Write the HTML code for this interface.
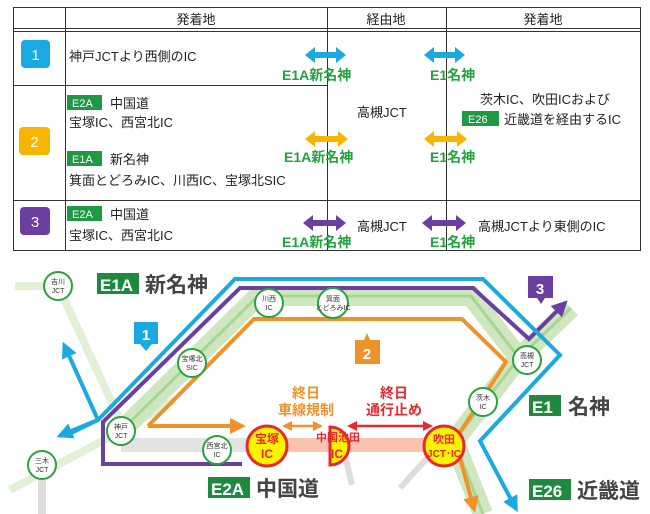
<!DOCTYPE html>
<html><head><meta charset="utf-8"><style>
html,body{margin:0;padding:0;background:#fff;}
svg{display:block;font-family:"Liberation Sans","Noto Sans CJK JP",sans-serif;}
</style></head><body>
<svg width="650" height="514" viewBox="0 0 650 514" xmlns="http://www.w3.org/2000/svg">
<defs>
<marker id="mb" markerWidth="4" markerHeight="4" refX="2" refY="2" orient="auto" markerUnits="strokeWidth"><path d="M0,0 L4,2 L0,4 z" fill="#1aa9e0"/></marker>
<marker id="mp" markerWidth="4" markerHeight="4" refX="2" refY="2" orient="auto" markerUnits="strokeWidth"><path d="M0,0 L4,2 L0,4 z" fill="#6b3fa0"/></marker>
<marker id="mo" markerWidth="4" markerHeight="4" refX="2" refY="2" orient="auto" markerUnits="strokeWidth"><path d="M0,0 L4,2 L0,4 z" fill="#f0922a"/></marker>
<marker id="mr" markerWidth="4" markerHeight="4" refX="2" refY="2" orient="auto-start-reverse" markerUnits="strokeWidth"><path d="M0,0 L4,2 L0,4 z" fill="#e8282f"/></marker>
<marker id="mo2" markerWidth="4" markerHeight="4" refX="2" refY="2" orient="auto-start-reverse" markerUnits="strokeWidth"><path d="M0,0 L4,2 L0,4 z" fill="#f0922a"/></marker>
</defs>
<!-- TABLE -->
<g stroke="#333" stroke-width="1" fill="none">
<rect x="13.5" y="7.5" width="627" height="243"/>
<line x1="13" y1="28.5" x2="640" y2="28.5"/>
<line x1="13" y1="31.5" x2="640" y2="31.5"/>
<line x1="65.5" y1="7" x2="65.5" y2="250"/>
<line x1="327.5" y1="7" x2="327.5" y2="250"/>
<line x1="446.5" y1="7" x2="446.5" y2="250"/>
<line x1="13" y1="85.5" x2="327" y2="85.5"/>
<line x1="13" y1="200.5" x2="640" y2="200.5"/>
</g>
<g font-size="13" fill="#222" text-anchor="middle">
<text x="196" y="24">発着地</text><text x="386" y="24">経由地</text><text x="543" y="24">発着地</text>
</g>
<rect x="21" y="40" width="29" height="28" rx="4" fill="#1aa9e0"/><text x="35.5" y="60" fill="#fff" font-size="15" text-anchor="middle">1</text>
<rect x="19" y="127" width="31" height="28" rx="4" fill="#f7b500"/><text x="34.5" y="147" fill="#fff" font-size="15" text-anchor="middle">2</text>
<rect x="20" y="207" width="30" height="28" rx="4" fill="#6b3fa0"/><text x="35" y="227" fill="#fff" font-size="15" text-anchor="middle">3</text>
<g font-size="13" fill="#222">
<text x="69" y="61">神戸JCTより西側のIC</text>
<rect x="67" y="95" width="35" height="15" fill="#1e9a45"/><text x="72" y="107" fill="#fff" font-size="11">E2A</text><text x="110" y="108">中国道</text>
<text x="69" y="127">宝塚IC、西宮北IC</text>
<rect x="67" y="151" width="35" height="15" fill="#1e9a45"/><text x="72" y="163" fill="#fff" font-size="11">E1A</text><text x="110" y="164">新名神</text>
<text x="69" y="185">箕面とどろみIC、川西IC、宝塚北SIC</text>
<text x="357" y="117">高槻JCT</text>
<text x="480" y="104">茨木IC、吹田ICおよび</text>
<rect x="462" y="111" width="37" height="15" fill="#1e9a45"/><text x="468" y="123" fill="#fff" font-size="11">E26</text><text x="504" y="124">近畿道を経由するIC</text>
<rect x="67" y="206" width="35" height="15" fill="#1e9a45"/><text x="72" y="218" fill="#fff" font-size="11">E2A</text><text x="110" y="219">中国道</text>
<text x="69" y="240">宝塚IC、西宮北IC</text>
<text x="357" y="231">高槻JCT</text>
<text x="478" y="231">高槻JCTより東側のIC</text>
</g>
<!-- table arrows -->
<g>
<path d="M305,55 l10,-8 v5 h21 v-5 l10,8 l-10,8 v-5 h-21 v5z" fill="#1aa9e0"/>
<path d="M424,55 l10,-8 v5 h21 v-5 l10,8 l-10,8 v-5 h-21 v5z" fill="#1aa9e0"/>
<path d="M305,139 l10,-8 v5 h23 v-5 l10,8 l-10,8 v-5 h-23 v5z" fill="#f7b500"/>
<path d="M424,139 l10,-8 v5 h23 v-5 l10,8 l-10,8 v-5 h-23 v5z" fill="#f7b500"/>
<path d="M303,223 l10,-8 v5 h23 v-5 l10,8 l-10,8 v-5 h-23 v5z" fill="#6b3fa0"/>
<path d="M422,223 l10,-8 v5 h24 v-5 l10,8 l-10,8 v-5 h-24 v5z" fill="#6b3fa0"/>
</g>
<g font-size="14" font-weight="bold" fill="#22a33c">
<text x="282" y="80">E1A新名神</text><text x="430" y="80">E1名神</text>
<text x="284" y="162">E1A新名神</text><text x="430" y="162">E1名神</text>
<text x="282" y="247">E1A新名神</text><text x="430" y="247">E1名神</text>
</g>
<!-- MAP -->
<g fill="none" stroke-linecap="butt" stroke-linejoin="miter">
<!-- light green background roads -->
<path d="M15,286 H58 L125,431" stroke="#e2f0d8" stroke-width="8"/>
<path d="M10,490 L121,431 L175,400" stroke="#e2f0d8" stroke-width="8"/>
<path d="M571,308 L519,358 L454,441 L483,514" stroke="#cfe7c0" stroke-width="20"/>
<path d="M121,431 L258,296 H471 L519,358" stroke="#cfe7c0" stroke-width="20"/>
<path d="M571,308 L519,358 L454,441 L483,514" stroke="#a8d594" stroke-width="3"/>
<path d="M121,431 L258,296 H471 L519,358" stroke="#a8d594" stroke-width="3"/>
<!-- grey -->
<path d="M42,480 V514" stroke="#ddd" stroke-width="8"/>
<path d="M345,455 L352,485" stroke="#ddd" stroke-width="6"/>
<path d="M430,455 L400,488" stroke="#ddd" stroke-width="6"/>
<path d="M121,445 H267" stroke="#e3e3e3" stroke-width="14"/>
<path d="M267,445 H446" stroke="#f8c4b0" stroke-width="14"/>
<!-- orange -->
<path d="M148,426 L254,319 H462 L506,362 L455,440 L473,505" stroke="#f0922a" stroke-width="4" marker-end="url(#mo)"/>
<path d="M148,426 H238" stroke="#f0922a" stroke-width="4" marker-end="url(#mo)"/>
<!-- purple -->
<path d="M242,464 H103 V422 L240,288 H473 L529,339 L562,306" stroke="#6b3fa0" stroke-width="4" marker-end="url(#mp)"/>
<!-- blue -->
<path d="M60,436 L98,420 L235,279 H483 L560,355 L480,441 L514,505" stroke="#1aa9e0" stroke-width="4" marker-end="url(#mb)"/>
<path d="M65,436 L98,420" stroke="#1aa9e0" stroke-width="4"/>
<path d="M98,420 L66,349" stroke="#1aa9e0" stroke-width="4" marker-end="url(#mb)"/>
<path d="M93,422 L64,434" stroke="#1aa9e0" stroke-width="4" marker-end="url(#mb)"/>
<!-- small arrows -->
<path d="M287,426 H318" stroke="#f0922a" stroke-width="2.5" marker-start="url(#mo2)" marker-end="url(#mo2)"/>
<path d="M352,426 H428" stroke="#e8282f" stroke-width="2.5" marker-start="url(#mr)" marker-end="url(#mr)"/>
</g>
<!-- callouts -->
<path d="M134,322 h24 v22 h-6 l-6,7 l-6,-7 h-6z" fill="#1aa9e0"/><text x="146" y="340" fill="#fff" font-size="15" font-weight="bold" text-anchor="middle">1</text>
<path d="M355,340 h9 l3,-7 l3,7 h10 v24 h-25z" fill="#f0922a"/><text x="367" y="359" fill="#fff" font-size="15" font-weight="bold" text-anchor="middle">2</text>
<path d="M528,276 h25 v22 h-8 l-4,6 l-4,-6 h-9z" fill="#6b3fa0"/><text x="540" y="294" fill="#fff" font-size="15" font-weight="bold" text-anchor="middle">3</text>
<!-- small circles -->
<g fill="#fff" stroke="#2aa33f" stroke-width="2">
<circle cx="58" cy="286" r="14"/><circle cx="269" cy="303" r="14"/><circle cx="333" cy="303" r="15"/>
<circle cx="192" cy="363" r="14"/><circle cx="527" cy="360" r="14"/><circle cx="483" cy="402" r="14"/>
<circle cx="121" cy="431" r="14"/><circle cx="217" cy="450" r="14"/><circle cx="42" cy="465" r="14"/>
</g>
<g font-size="7" fill="#333" text-anchor="middle">
<text x="58" y="284">吉川</text><text x="58" y="293">JCT</text>
<text x="269" y="301">川西</text><text x="269" y="310">IC</text>
<text x="333" y="301">箕面</text><text x="333" y="310">とどろみIC</text>
<text x="192" y="361">宝塚北</text><text x="192" y="370">SIC</text>
<text x="527" y="358">高槻</text><text x="527" y="367">JCT</text>
<text x="483" y="400">茨木</text><text x="483" y="409">IC</text>
<text x="121" y="429">神戸</text><text x="121" y="438">JCT</text>
<text x="217" y="448">西宮北</text><text x="217" y="457">IC</text>
<text x="42" y="463">三木</text><text x="42" y="472">JCT</text>
</g>
<!-- big circles -->
<g fill="#fff200" stroke="#e8282f" stroke-width="3">
<circle cx="267" cy="446" r="20"/>
<path d="M330,427 A19,19 0 0 1 330,465 Z"/>
<circle cx="444" cy="446" r="20"/>
</g>
<g font-size="12" font-weight="bold" fill="#e8282f" text-anchor="middle">
<text x="267" y="443">宝塚</text><text x="267" y="458">IC</text>
<text x="338" y="441" font-size="11">中国池田</text><text x="337" y="458">IC</text>
<text x="444" y="443" font-size="11">吹田</text><text x="444" y="457" font-size="10">JCT･IC</text>
</g>
<g font-size="14" font-weight="bold" text-anchor="middle">
<text x="306" y="398" fill="#f0922a">終日</text><text x="306" y="415" fill="#f0922a">車線規制</text>
<text x="394" y="398" fill="#e8282f">終日</text><text x="394" y="415" fill="#e8282f">通行止め</text>
</g>
<!-- road labels -->
<g font-size="21" font-weight="bold" fill="#444">
<rect x="97" y="273" width="42" height="21" fill="#1e8a40"/><text x="100" y="291" fill="#fff" font-size="17">E1A</text><text x="145" y="292">新名神</text>
<rect x="529" y="395" width="32" height="21" fill="#1e8a40"/><text x="532" y="413" fill="#fff" font-size="17">E1</text><text x="568" y="414">名神</text>
<rect x="208" y="477" width="42" height="21" fill="#1e8a40"/><text x="211" y="495" fill="#fff" font-size="17">E2A</text><text x="256" y="496">中国道</text>
<rect x="529" y="479" width="42" height="21" fill="#1e8a40"/><text x="532" y="497" fill="#fff" font-size="17">E26</text><text x="577" y="498">近畿道</text>
</g>
</svg>
</body></html>
